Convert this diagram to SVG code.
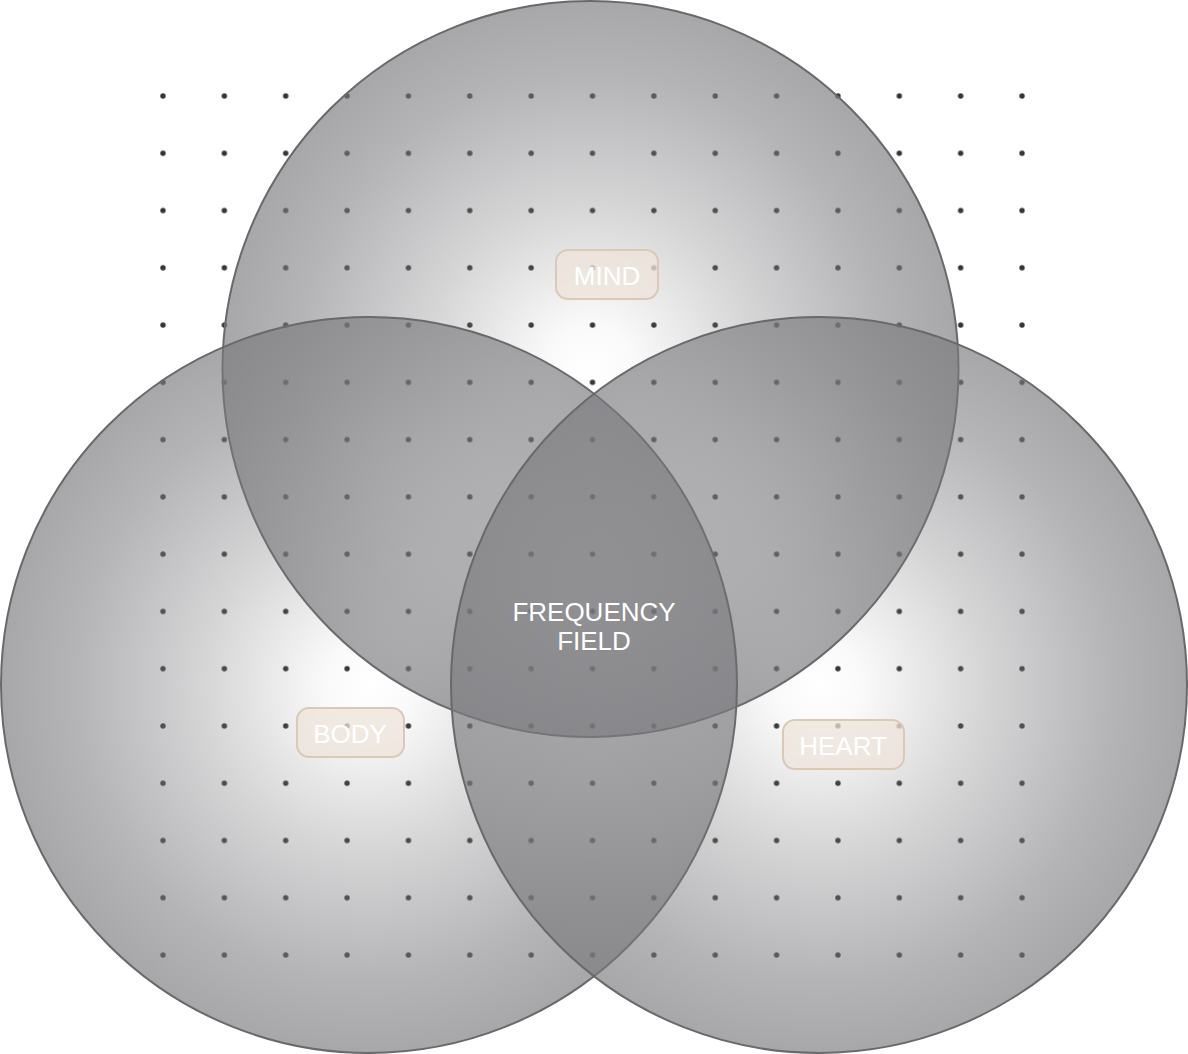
<svg xmlns="http://www.w3.org/2000/svg" width="1188" height="1054" viewBox="0 0 1188 1054">
<defs>
<radialGradient id="g" cx="0.5" cy="0.5" r="0.5">
<stop offset="0" stop-color="#7a797d" stop-opacity="0"/>
<stop offset="0.12" stop-color="#7a797d" stop-opacity="0.04"/>
<stop offset="0.46" stop-color="#7a797d" stop-opacity="0.32"/>
<stop offset="0.8" stop-color="#7a797d" stop-opacity="0.56"/>
<stop offset="1" stop-color="#7a797d" stop-opacity="0.66"/>
</radialGradient>
<pattern id="dots" x="163" y="96" width="61.36" height="57.27" patternUnits="userSpaceOnUse">
<circle cx="0" cy="0" r="2.7" fill="#353535"/>
<circle cx="61.36" cy="0" r="2.7" fill="#353535"/>
<circle cx="0" cy="57.27" r="2.7" fill="#353535"/>
<circle cx="61.36" cy="57.27" r="2.7" fill="#353535"/>
</pattern>
<style>
.c{fill:url(#g);stroke:#69686b;stroke-width:2}
.lb{fill:#ede4da;fill-opacity:0.75;stroke:#dac9b6;stroke-width:2}
.t{font-family:"Liberation Sans",Arial,sans-serif;font-size:26px;fill:#ffffff;text-anchor:middle}
</style>
</defs>
<rect width="1188" height="1054" fill="#ffffff"/>
<g id="grid"><rect x="160" y="93" width="866" height="866" fill="url(#dots)"/></g>
<g id="mind"><circle class="c" cx="590.5" cy="369" r="368"/></g>
<g id="body"><circle class="c" cx="369" cy="685" r="368"/></g>
<g id="heart"><circle class="c" cx="819" cy="685" r="368"/></g>
<g id="connectors"></g>
<g id="mind-label"><rect class="lb" x="556" y="250" width="102" height="49" rx="12"/><text class="t" x="607" y="285">MIND</text></g>
<g id="body-label"><rect class="lb" x="297" y="708" width="107" height="49" rx="12"/><text class="t" x="350" y="743">BODY</text></g>
<g id="heart-label"><rect class="lb" x="783" y="720" width="121" height="49" rx="12"/><text class="t" x="843" y="755">HEART</text></g>
<g id="center"><text class="t" x="594" y="621">FREQUENCY</text><text class="t" x="594" y="650">FIELD</text></g>
</svg>
